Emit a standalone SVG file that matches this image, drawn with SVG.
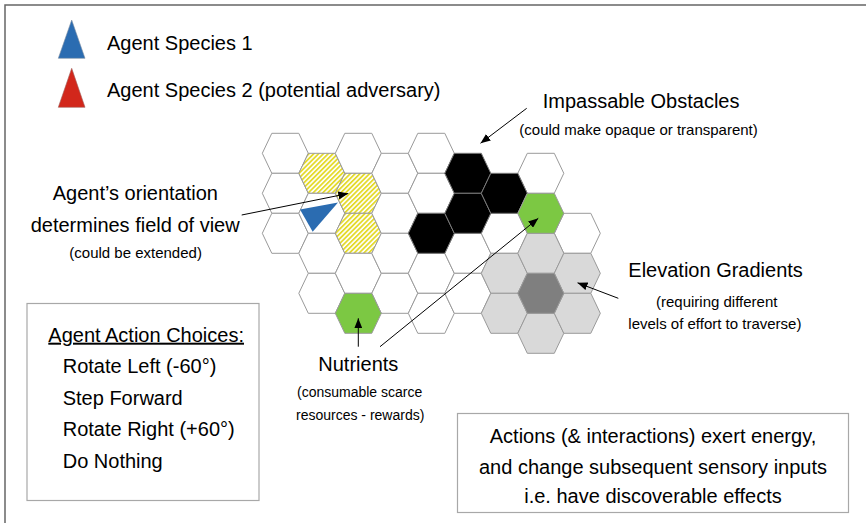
<svg xmlns="http://www.w3.org/2000/svg" xmlns:xlink="http://www.w3.org/1999/xlink" width="866" height="523" viewBox="0 0 866 523">
  <style>
    text { font-family: "Liberation Sans", Arial, sans-serif; fill: #000; }
    .big { font-size: 20px; }
    .small { font-size: 15px; }
    .note { font-size: 14px; }
    .mid { text-anchor: middle; }
    .cell { stroke: #9a9a9a; stroke-width: 1; }
    .w { fill: #fff; }
    .y { fill: url(#hatch); }
    .k { fill: #000; stroke: #7a7a7a; }
    .g { fill: #7cc843; }
    .l { fill: #d9d9d9; }
    .d { fill: #7f7f7f; }
    .box { fill: #fff; stroke: #a8a8a8; stroke-width: 1.2; }
    .frame { stroke: #666; stroke-width: 1.5; fill: none; }
    .conn { stroke: #000; stroke-width: 1; fill: none; marker-end: url(#arrow); }
  </style>
  <defs>
    <!-- flat-topped hex cell, 46 wide and 40 tall -->
    <path id="hx" d="M-23,0 L-13.5,-20 L13.5,-20 L23,0 L13.5,20 L-13.5,20 Z"/>
    <!-- diagonal yellow stripes marking the field of view -->
    <pattern id="hatch" patternUnits="userSpaceOnUse" width="3.4" height="3.4" patternTransform="rotate(45)">
      <rect width="3.4" height="3.4" fill="#fff"/>
      <rect width="1.8" height="3.4" fill="#e4da2c"/>
    </pattern>
    <marker id="arrow" viewBox="0 0 10 8" refX="10" refY="4" markerWidth="10" markerHeight="8" orient="auto" markerUnits="userSpaceOnUse">
      <path d="M0,0 L10,4 L0,8 Z" fill="#000"/>
    </marker>
  </defs>

  <rect width="866" height="523" fill="#fff"/>
  <!-- page frame: top and left rules -->
  <path class="frame" d="M5,523 L5,5 L866,5"/>

  <!-- legend -->
  <g id="legend-species-1">
    <polygon points="71.7,20 85,58.3 58.3,58.3" fill="#2b6cb1" stroke="#7d8ea3" stroke-width="0.6"/>
    <text class="big" x="107" y="50">Agent Species 1</text>
  </g>
  <g id="legend-species-2">
    <polygon points="71.7,68.3 85,107.3 58.3,107.3" fill="#d2271b" stroke="#a0605a" stroke-width="0.6"/>
    <text class="big" x="107" y="97">Agent Species 2 (potential adversary)</text>
  </g>

  <!-- hex world -->
  <g id="grid">
    <!-- column A -->
    <use href="#hx" class="cell w" x="285.3" y="153.3"/>
    <use href="#hx" class="cell w" x="285.3" y="193.3"/>
    <use href="#hx" class="cell w" x="285.3" y="233.3"/>
    <!-- column B -->
    <use href="#hx" class="cell y" x="321.8" y="173.3"/>
    <use href="#hx" class="cell w" x="321.8" y="213.3"/>
    <use href="#hx" class="cell w" x="321.8" y="253.3"/>
    <use href="#hx" class="cell w" x="321.8" y="293.3"/>
    <!-- column C -->
    <use href="#hx" class="cell w" x="358.3" y="153.3"/>
    <use href="#hx" class="cell y" x="358.3" y="193.3"/>
    <use href="#hx" class="cell y" x="358.3" y="233.3"/>
    <use href="#hx" class="cell w" x="358.3" y="273.3"/>
    <!-- column D -->
    <use href="#hx" class="cell w" x="394.8" y="173.3"/>
    <use href="#hx" class="cell w" x="394.8" y="213.3"/>
    <use href="#hx" class="cell w" x="394.8" y="253.3"/>
    <use href="#hx" class="cell w" x="394.8" y="293.3"/>
    <!-- column E -->
    <use href="#hx" class="cell w" x="431.3" y="153.3"/>
    <use href="#hx" class="cell w" x="431.3" y="193.3"/>
    <use href="#hx" class="cell w" x="431.3" y="273.3"/>
    <use href="#hx" class="cell w" x="431.3" y="313.3"/>
    <!-- column F -->
    <use href="#hx" class="cell w" x="467.8" y="253.3"/>
    <use href="#hx" class="cell w" x="467.8" y="293.3"/>
    <!-- column G -->
    <use href="#hx" class="cell w" x="504.3" y="233.3"/>
    <!-- column H -->
    <use href="#hx" class="cell w" x="540.8" y="173.3"/>
    <!-- column I -->
    <use href="#hx" class="cell w" x="577.3" y="233.3"/>
  </g>

  <g id="obstacles">
    <use href="#hx" class="cell k" x="431.3" y="233.3"/>
    <use href="#hx" class="cell k" x="467.8" y="173.3"/>
    <use href="#hx" class="cell k" x="467.8" y="213.3"/>
    <use href="#hx" class="cell k" x="504.3" y="193.3"/>
  </g>

  <g id="elevation">
    <use href="#hx" class="cell l" x="504.3" y="273.3"/>
    <use href="#hx" class="cell l" x="504.3" y="313.3"/>
    <use href="#hx" class="cell l" x="540.8" y="253.3"/>
    <use href="#hx" class="cell l" x="540.8" y="333.3"/>
    <use href="#hx" class="cell l" x="577.3" y="273.3"/>
    <use href="#hx" class="cell l" x="577.3" y="313.3"/>
    <use href="#hx" class="cell d" x="540.8" y="293.3"/>
  </g>

  <g id="nutrients">
    <use href="#hx" class="cell g" x="358.3" y="313.3"/>
    <use href="#hx" class="cell g" x="540.8" y="213.3"/>
  </g>

  <g id="agent">
    <polygon points="300,209.5 338,202.5 312.7,231.7" fill="#2b6cb1"/>
  </g>

  <!-- annotations -->
  <g id="label-obstacles">
    <text class="big" x="542.7" y="108.3">Impassable Obstacles</text>
    <text class="small" x="519.3" y="135">(could make opaque or transparent)</text>
  </g>
  <g id="label-orientation">
    <text class="big" x="52.7" y="200">Agent’s orientation</text>
    <text class="big" x="30.7" y="231.7">determines field of view</text>
    <text class="small" x="69.3" y="258.3">(could be extended)</text>
  </g>
  <g id="label-elevation">
    <text class="big" x="628.3" y="276.7">Elevation Gradients</text>
    <text class="small" x="656" y="306.7">(requiring different</text>
    <text class="small" x="628.3" y="329">levels of effort to traverse)</text>
  </g>
  <g id="label-nutrients">
    <text class="big" x="318.3" y="370.7">Nutrients</text>
    <text class="note" x="297" y="396.7">(consumable scarce</text>
    <text class="note" x="296" y="420">resources - rewards)</text>
  </g>

  <g id="actions-box">
    <rect class="box" x="27" y="303.5" width="232" height="197"/>
    <text class="big" x="48.3" y="341.7" text-decoration="underline">Agent Action Choices:</text>
    <text class="big" x="62.7" y="373.3">Rotate Left (-60°)</text>
    <text class="big" x="62.7" y="404.5">Step Forward</text>
    <text class="big" x="62.7" y="436">Rotate Right (+60°)</text>
    <text class="big" x="62.7" y="468">Do Nothing</text>
  </g>

  <g id="effects-box">
    <rect class="box" x="457.5" y="413.5" width="391" height="99"/>
    <text class="big mid" x="653" y="443.3">Actions (&amp; interactions) exert energy,</text>
    <text class="big mid" x="653" y="474">and change subsequent sensory inputs</text>
    <text class="big mid" x="653" y="503">i.e. have discoverable effects</text>
  </g>

  <g id="connectors">
    <line class="conn" x1="526.7" y1="108.3" x2="480.5" y2="143.3"/>
    <line class="conn" x1="241.7" y1="215" x2="348.3" y2="193.5"/>
    <line class="conn" x1="618.3" y1="298.3" x2="577.5" y2="282.8"/>
    <line class="conn" x1="358.3" y1="346.7" x2="358.3" y2="318.3"/>
    <line class="conn" x1="380" y1="346.7" x2="538.3" y2="218.3"/>
  </g>
</svg>
